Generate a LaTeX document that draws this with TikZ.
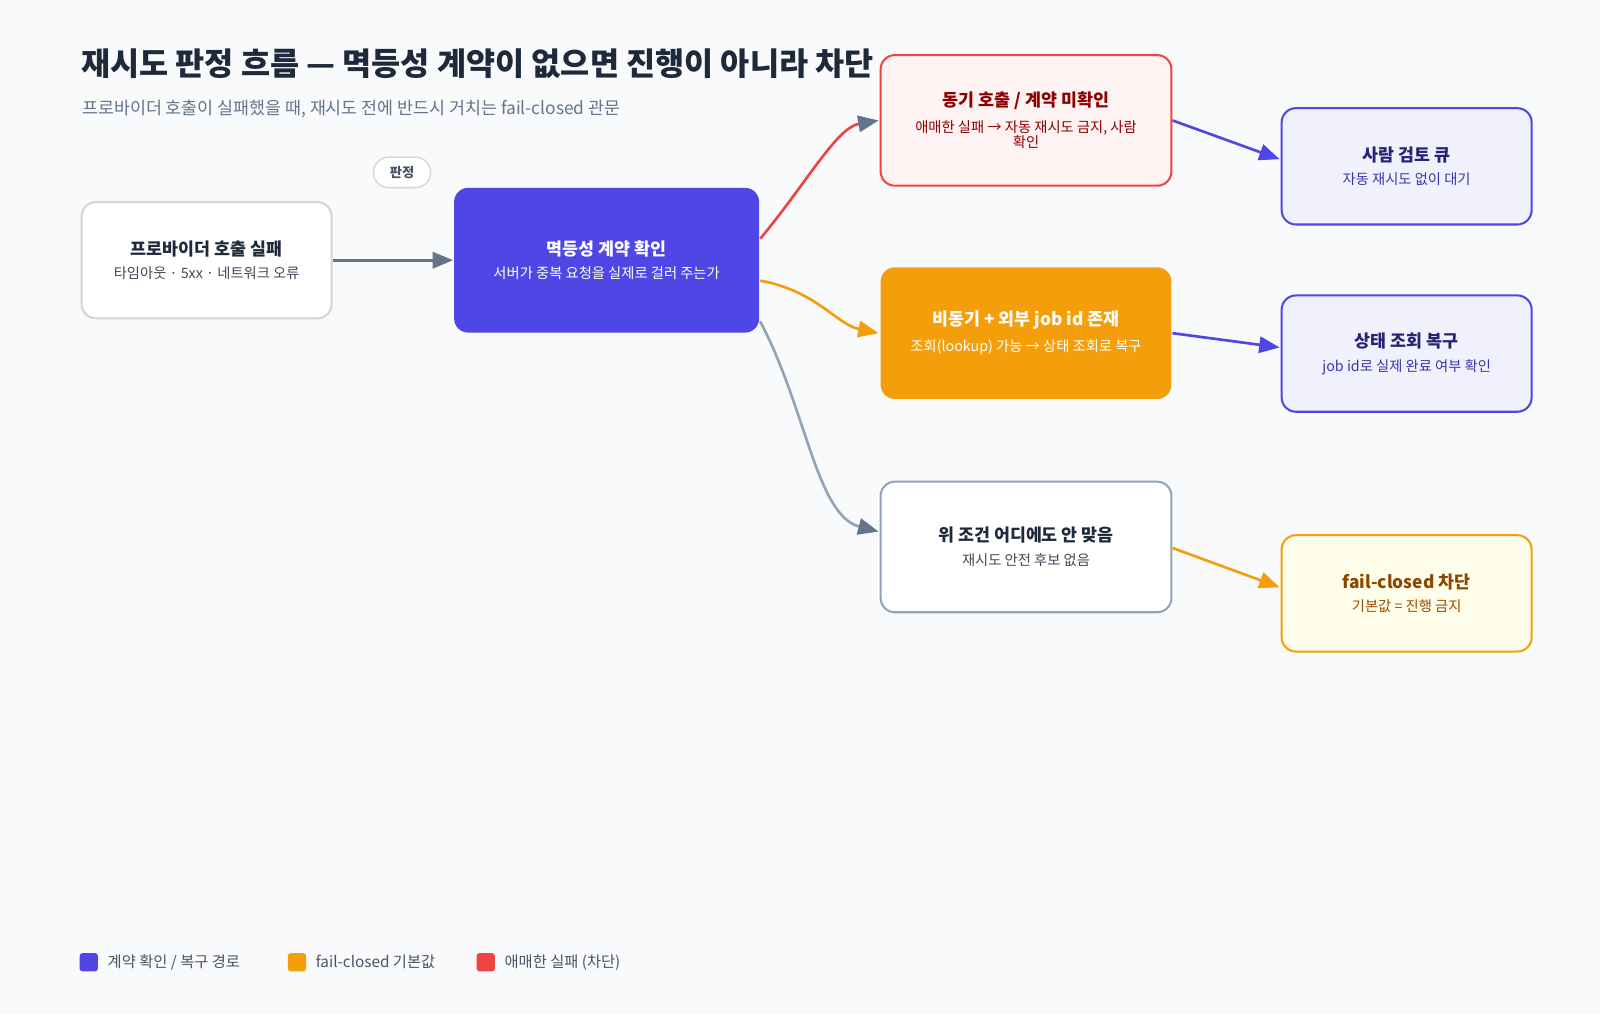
\documentclass[tikz,border=0pt]{standalone}
\usepackage{fontspec}
\setmainfont{Noto Sans CJK KR}
\usetikzlibrary{arrows.meta,calc}
\definecolor{bg}{HTML}{F8FAFC}
\definecolor{ink}{HTML}{1E293B}
\definecolor{slate}{HTML}{64748B}
\definecolor{slatel}{HTML}{94A3B8}
\definecolor{indigo}{HTML}{4F46E5}
\definecolor{amber}{HTML}{F59E0B}
\definecolor{redc}{HTML}{EF4444}
\newcommand\myttl{\fontsize{17}{20}\selectfont\bfseries}
\newcommand\mysub{\fontsize{14}{21}\selectfont}
\begin{document}
\begin{tikzpicture}[x=1pt,y=-1pt,
  box/.style={rounded corners=14pt,line width=2pt,align=center,inner sep=0pt},
  arr/.style={line width=2.6pt,-{Stealth[length=20pt,width=16pt,inset=0pt]}},
]
\fill[bg] (0,0) rectangle (1568,994);
\useasboundingbox (0,0) rectangle (1568,994);
\node[anchor=west,text=ink,font=\fontsize{31}{36}\selectfont\bfseries] (title) at (76,62) {재시도 판정 흐름 — 멱등성 계약이 없으면 진행이 아니라 차단};
\node[anchor=west,text=slate,font=\fontsize{17}{20}\selectfont] (sub) at (77,107) {프로바이더 호출이 실패했을 때, 재시도 전에 반드시 거치는 fail-closed 관문};
\node[draw=black!15,fill=white,rounded corners=15pt,line width=1.5pt,minimum width=56pt,minimum height=30pt,font=\fontsize{13}{15}\selectfont\bfseries,text=ink!80] (pill) at (394,169) {판정};

\node[box,draw=black!17,fill=white,minimum width=245pt,minimum height=114pt] (n1) at (202.5,255)
 {{\myttl\color{ink}프로바이더 호출 실패}\\[9pt]\mysub\color{ink!85}타임아웃 · 5xx · 네트워크 오류};
\node[box,draw=none,fill=indigo,minimum width=299pt,minimum height=142pt] (n2) at (594.5,255)
 {{\myttl\color{white}멱등성 계약 확인}\\[9pt]\mysub\color{white}서버가 중복 요청을 실제로 걸러 주는가};
\node[box,draw=redc,fill=red!5,minimum width=285pt,minimum height=128pt] (n3) at (1005.5,118)
 {{\myttl\color{red!55!black}동기 호출 / 계약 미확인}\\[9pt]\mysub\color{red!55!black}애매한 실패 → 자동 재시도 금지, 사람\\\mysub\color{red!55!black}확인};
\node[box,draw=none,fill=amber,minimum width=285pt,minimum height=129pt] (n4) at (1005.5,326.5)
 {{\myttl\color{white}비동기 + 외부 job id 존재}\\[9pt]\mysub\color{white}조회(lookup) 가능 → 상태 조회로 복구};
\node[box,draw=slatel,fill=white,minimum width=285pt,minimum height=128pt] (n5) at (1005.5,536)
 {{\myttl\color{ink}위 조건 어디에도 안 맞음}\\[9pt]\mysub\color{ink!85}재시도 안전 후보 없음};
\node[box,draw=indigo,fill=indigo!8,minimum width=245pt,minimum height=114pt] (n6) at (1378.5,163)
 {{\myttl\color{indigo!50!black}사람 검토 큐}\\[9pt]\mysub\color{indigo!75!black}자동 재시도 없이 대기};
\node[box,draw=indigo,fill=indigo!8,minimum width=245pt,minimum height=114pt] (n7) at (1378.5,346.5)
 {{\myttl\color{indigo!50!black}상태 조회 복구}\\[9pt]\mysub\color{indigo!75!black}job id로 실제 완료 여부 확인};
\node[box,draw=amber,fill=yellow!8,minimum width=245pt,minimum height=114pt] (n8) at (1378.5,581.5)
 {{\myttl\color{orange!55!black}fail-closed 차단}\\[9pt]\mysub\color{orange!60!black}기본값 = 진행 금지};

\draw[arr,slate] (n1.east) -- (n2.west);
\draw[line width=2.6pt,redc,-{Stealth[length=20pt,width=16pt,inset=0pt,color=slate]}] ($(n2.east)+(0,-21)$) .. controls (790,180) and (820,125) .. ($(n3.west)+(-1,0)$);
\draw[arr,amber] ($(n2.east)+(0,20)$) .. controls (800,285) and (820,318) .. ($(n4.west)+(-1,0)$);
\draw[line width=2.6pt,slatel,-{Stealth[length=20pt,width=16pt,inset=0pt,color=slate]}] ($(n2.east)+(0,60)$) .. controls (790,400) and (800,505) .. ($(n5.west)+(-1,-15)$);
\draw[arr,indigo] (n3.east) -- ($(n6.west)+(-1,-7)$);
\draw[arr,indigo] (n4.east) -- ($(n7.west)+(-1,-6)$);
\draw[arr,amber] ($(n5.east)+(0,1)$) -- ($(n8.west)+(-1,-6)$);

\fill[indigo,rounded corners=3pt] (78,934) rectangle (96,952);
\node[anchor=west,text=ink!80,font=\fontsize{15}{18}\selectfont] (l1) at (102,943) {계약 확인 / 복구 경로};
\fill[amber,rounded corners=3pt] (282,934) rectangle (300,952);
\node[anchor=west,text=ink!80,font=\fontsize{15}{18}\selectfont] (l2) at (306,943) {fail-closed 기본값};
\fill[redc,rounded corners=3pt] (467,934) rectangle (485,952);
\node[anchor=west,text=ink!80,font=\fontsize{15}{18}\selectfont] (l3) at (491,943) {애매한 실패 (차단)};
\end{tikzpicture}
\end{document}
